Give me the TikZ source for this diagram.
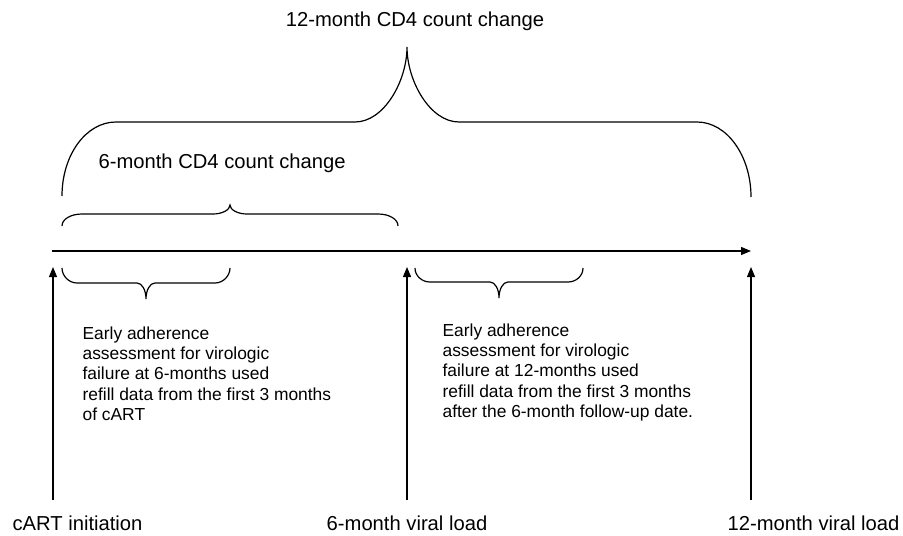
\documentclass[tikz,border=0pt]{standalone}
\usepackage{fontspec}
\setmainfont{Liberation Sans}
\usetikzlibrary{arrows.meta}
\usetikzlibrary{positioning}

\begin{document}
\begin{tikzpicture}[x=0.5pt,y=-0.5pt,line width=0.6pt,>={Triangle[length=5pt,width=4pt]}]
		\tikzset{timelabel/.style = {font=\fontsize{10.1}{12}\selectfont, inner sep=0pt},
			notetext/.style = {font=\fontsize{8.7}{10.15}\selectfont, align=left, inner sep=0pt, anchor=north west}}
		\useasboundingbox (0,0) rectangle (903,535);
		
		% time points on the axis
		\coordinate (axisstart) at (52,251);
		\coordinate (axisend) at (751,251);
		\coordinate (foot0) at (53,500);
		\coordinate (head0) at (53,267);
		\coordinate (foot6) at (407,500);
		\coordinate (head6) at (407,267);
		\coordinate (foot12) at (751,500);
		\coordinate (head12) at (751,267);
		
		\node[timelabel, anchor=west] (INIT) at (12,523) {cART initiation};
		\node[timelabel] (VL6) at (407,523) {6-month viral load};
		\node[timelabel, anchor=east] (VL12) at (900,523) {12-month viral load};
		\node[timelabel] (CD12) at (415,21) {12-month CD4 count change};
		\node[timelabel, anchor=west] (CD6) at (98,163) {6-month CD4 count change};
		
		\node[notetext] (ADH6) at (82,326)
		{Early adherence\\
			assessment for virologic\\
			failure at 6-months used\\
			refill data from the first 3 months\\
			of cART};
		\node[notetext] (ADH12) at (442,323)
		{Early adherence\\
			assessment for virologic\\
			failure at 12-months used\\
			refill data from the first 3 months\\
			after the 6-month follow-up date.};
		
		\draw[->] (axisstart) -- (axisend);
		\draw[->] (foot0) -- (head0);
		\draw[->] (foot6) -- (head6);
		\draw[->] (foot12) -- (head12);
		
		% 12-month brace
		\draw (62,196) .. controls (62,155) and (86,122) .. (116,122) -- (355,122)
			.. controls (384,122) and (407,81) .. (407,47)
			.. controls (407,81) and (430,122) .. (459,122) -- (697,122)
			.. controls (727,122) and (751,156) .. (751,197);
		% 6-month brace
		\draw (62,226) .. controls (62,219) and (71,214) .. (82,214) -- (213,214)
			.. controls (222,214) and (230,210) .. (230,205)
			.. controls (230,210) and (238,214) .. (247,214) -- (378,214)
			.. controls (389,214) and (398,219) .. (398,226);
		% first 3 months
		\draw (62,268) .. controls (62,276) and (69,283) .. (77,283) -- (137,283)
			.. controls (142,283) and (146,290) .. (146,299)
			.. controls (146,290) and (150,283) .. (155,283) -- (215,283)
			.. controls (223,283) and (230,276) .. (230,268);
		% 3 months after 6-month follow-up
		\draw (415,268) .. controls (415,276) and (422,282) .. (430,282) -- (490,282)
			.. controls (495,282) and (499,289) .. (499,298)
			.. controls (499,289) and (503,282) .. (508,282) -- (568,282)
			.. controls (576,282) and (583,276) .. (583,268);
		
\end{tikzpicture}
\end{document}
